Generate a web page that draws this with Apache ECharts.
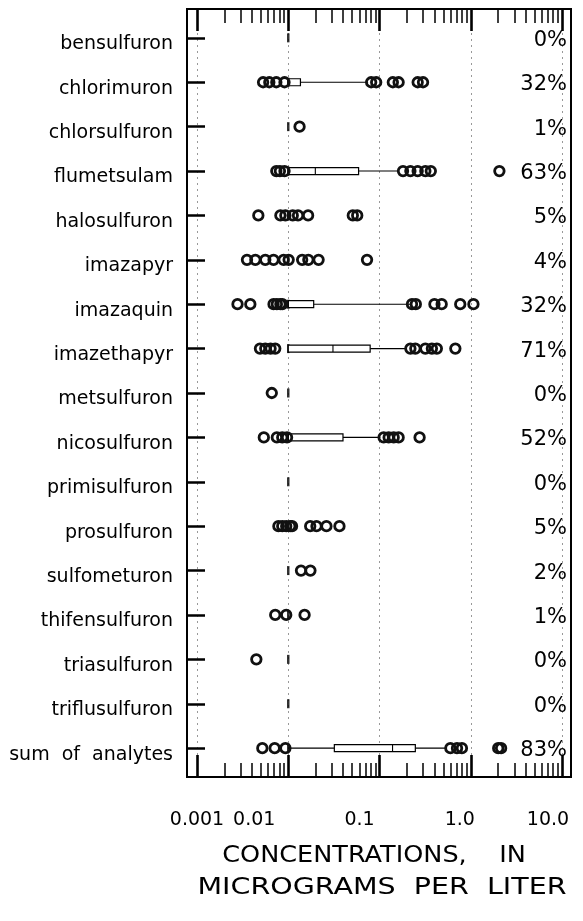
<!DOCTYPE html>
<html><head><meta charset="utf-8">
<style>html,body{margin:0;padding:0;background:#fff}#c{width:583px;height:921px}</style>
<script src="https://cdn.jsdelivr.net/npm/echarts@6/dist/echarts.min.js"></script>
</head><body><div id="c"></div>
<script>
const categories = ['bensulfuron','chlorimuron','chlorsulfuron','flumetsulam','halosulfuron','imazapyr','imazaquin','imazethapyr','metsulfuron','nicosulfuron','primisulfuron','prosulfuron','sulfometuron','thifensulfuron','triasulfuron','triflusulfuron','sum  of  analytes'];
const detectPct = ['0%','32%','1%','63%','5%','4%','32%','71%','0%','52%','0%','5%','2%','1%','0%','0%','83%'];
const tickLabels = ['0.001','0.01','0.1','1.0','10.0'];
const titleLines = ['CONCENTRATIONS,    IN', 'MICROGRAMS  PER  LITER'];
const reportingLevel = [0.01,0.01,0.01,0.01,0.01,0.01,0.01,0.01,0.01,0.01,0.01,0.01,0.01,0.01,0.01,0.01,0.01];
// individual (outside-box) concentrations per category, same order as categories
const circles = [
  [],
  [0.0053,0.0062,0.0074,0.0091,0.081,0.092,0.140,0.162,0.262,0.30],
  [0.0133],
  [0.0074,0.0081,0.0091,0.181,0.218,0.262,0.318,0.365,2.06],
  [0.0047,0.0082,0.0093,0.0112,0.0128,0.0165,0.051,0.057],
  [0.00353,0.00436,0.0056,0.0069,0.0089,0.0101,0.0142,0.0166,0.0215,0.073],
  [0.00278,0.00384,0.0069,0.0075,0.0082,0.0086,0.227,0.25,0.40,0.48,0.767,1.07],
  [0.0049,0.0056,0.0064,0.0072,0.218,0.247,0.318,0.375,0.425,0.678],
  [0.0066],
  [0.0054,0.0075,0.0086,0.0097,0.111,0.126,0.143,0.162,0.275],
  [],
  [0.0078,0.0086,0.0095,0.0105,0.011,0.0174,0.0204,0.0262,0.0364],
  [0.0138,0.0175],
  [0.0072,0.0095,0.0151],
  [0.00447],
  [],
  [0.0052,0.0071,0.0093,0.598,0.707,0.80,2.0,2.15]
];
// [category index, lower whisker, Q1, median, Q3, upper whisker]
const boxes = [
  [1, 0.01, 0.01, 0.01, 0.0136, 0.075],
  [3, 0.01, 0.01, 0.0198, 0.059, 0.161],
  [6, 0.01, 0.01, 0.01, 0.019, 0.218],
  [7, 0.01, 0.01, 0.0309, 0.079, 0.20],
  [9, 0.01, 0.01, 0.01, 0.0398, 0.102],
  [16, 0.01, 0.032, 0.139, 0.247, 0.55]
];

const FONT = 'DejaVu Sans';
const labelShift = [0, 34, 20, 11, 14];
const rowIdx = categories.map((c, i) => i);
const minorTicks = [];
for (let d = -3; d < 1; d++) for (let k = 2; k <= 9; k++) minorTicks.push(d + Math.log10(k));

const circlePts = [];
circles.forEach((arr, i) => arr.forEach(v => circlePts.push([v, i])));
const rlPts = reportingLevel.map((v, i) => [v, i]);

const G = {left: 197, right: 21, top: 9, bottom: 144};
const rich = {};
labelShift.forEach((s, i) => { rich['s' + i] = {fontFamily: FONT, fontSize: 19, color: '#000', padding: [0, 2 * s, 0, 0]}; });

const chart = echarts.init(document.getElementById('c'), null, {renderer: 'canvas'});
const yBase = {type: 'value', inverse: true, min: -0.65, max: 16.65, splitLine: {show: false}, axisLine: {show: false, onZero: false}};
const noLine = {show: false, onZero: false};
chart.setOption({
  animation: false,
  backgroundColor: '#fff',
  grid: G,
  graphic: [
    {type: 'rect', z: 100,
     shape: {x: G.left - 10, y: G.top, width: 583 - G.right - G.left + 19, height: 921 - G.bottom - G.top},
     style: {fill: 'none', stroke: '#000', lineWidth: 2}},
    {type: 'text', x: 374, y: 856, scaleX: 1.11, style: {text: titleLines[0], fontFamily: FONT, fontSize: 23, fill: '#000', align: 'center', verticalAlign: 'middle'}},
    {type: 'text', x: 382, y: 888, scaleX: 1.24, style: {text: titleLines[1], fontFamily: FONT, fontSize: 23, fill: '#000', align: 'center', verticalAlign: 'middle'}}
  ],
  xAxis: [
    {type: 'log', logBase: 10, min: 0.001, max: 10, position: 'bottom',
     axisLine: noLine,
     axisTick: {show: true, inside: true, length: 22, lineStyle: {color: '#000', width: 2.6}},
     axisLabel: {margin: 34, rich: rich,
       formatter: v => { const i = Math.round(Math.log10(v)) + 3; return '{s' + i + '|' + tickLabels[i] + '}'; }},
     splitLine: {show: true, lineStyle: {color: '#999', type: [2, 4], width: 1}}},
    {type: 'log', logBase: 10, min: 0.001, max: 10, position: 'top',
     axisLine: noLine,
     axisTick: {show: true, inside: true, length: 22, lineStyle: {color: '#000', width: 2.6}},
     axisLabel: {show: false}, splitLine: {show: false}},
    {type: 'value', min: -3, max: 1, position: 'top', axisLine: noLine,
     axisTick: {show: true, inside: true, length: 14, customValues: minorTicks, lineStyle: {color: '#000', width: 1.5}},
     axisLabel: {show: false}, splitLine: {show: false}},
    {type: 'value', min: -3, max: 1, position: 'bottom', axisLine: noLine,
     axisTick: {show: true, inside: true, length: 14, customValues: minorTicks, lineStyle: {color: '#000', width: 1.5}},
     axisLabel: {show: false}, splitLine: {show: false}}
  ],
  yAxis: [
    Object.assign({}, yBase, {position: 'left', offset: 10,
      axisTick: {show: true, inside: true, length: 18, customValues: rowIdx, lineStyle: {color: '#000', width: 2.5}},
      axisLabel: {customValues: rowIdx, margin: 14,
        rich: {c: {fontFamily: FONT, fontSize: 19, color: '#000', padding: [13, 0, 0, 0]}},
        formatter: v => '{c|' + categories[Math.round(v)] + '}'}}),
    Object.assign({}, yBase, {position: 'right', offset: 9,
      axisTick: {show: false},
      axisLabel: {inside: true, customValues: rowIdx, margin: 4,
        rich: {p: {fontFamily: FONT, fontSize: 21, color: '#000', padding: [5, 0, 0, 0]}},
        formatter: v => '{p|' + detectPct[Math.round(v)] + '}'}})
  ],
  series: [
    {type: 'scatter', xAxisIndex: 0, yAxisIndex: 0, data: rlPts, symbol: 'rect', symbolSize: [2.5, 9],
     itemStyle: {color: '#000'}, silent: true, z: 2},
    {type: 'custom', xAxisIndex: 0, yAxisIndex: 0, data: boxes, encode: {y: 0, x: [1, 2, 3, 4, 5]}, z: 3, silent: true,
     renderItem: function (params, api) {
       const y = api.value(0);
       const p = [1, 2, 3, 4, 5].map(d => api.coord([api.value(d), y]));
       const h = 7;
       const ls = {stroke: '#000', lineWidth: 1.1};
       return {type: 'group', children: [
         {type: 'line', shape: {x1: p[0][0], y1: p[0][1], x2: p[1][0], y2: p[1][1]}, style: ls},
         {type: 'line', shape: {x1: p[3][0], y1: p[3][1], x2: p[4][0], y2: p[4][1]}, style: ls},
         {type: 'rect', shape: {x: p[1][0], y: p[1][1] - h / 2, width: p[3][0] - p[1][0], height: h},
          style: {fill: '#fff', stroke: '#000', lineWidth: 1.2}},
         {type: 'line', shape: {x1: p[2][0], y1: p[2][1] - h / 2, x2: p[2][0], y2: p[2][1] + h / 2}, style: ls}
       ]};
     }},
    {type: 'scatter', xAxisIndex: 0, yAxisIndex: 0, data: circlePts, symbol: 'circle', symbolSize: 9.5,
     itemStyle: {color: 'rgba(0,0,0,0)', borderColor: '#111', borderWidth: 2.8, opacity: 1}, z: 4, silent: true}
  ]
});
</script></body></html>
